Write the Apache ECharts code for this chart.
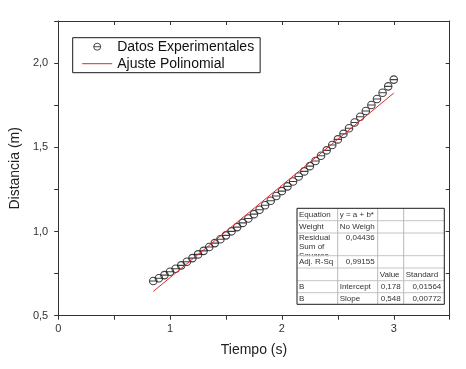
<!DOCTYPE html>
<html>
<head>
<meta charset="utf-8">
<script src="https://cdn.jsdelivr.net/npm/echarts@6/dist/echarts.min.js"></script>
<style>html,body{margin:0;padding:0;background:#fff;}#c{width:466px;height:369px;}</style>
</head>
<body>
<div id="c"></div>
<script>
// ---- data ----
var tiempo = [0.85,0.90,0.95,1.00,1.05,1.10,1.15,1.20,1.25,1.30,1.35,1.40,1.45,1.50,1.55,1.60,1.65,1.70,1.75,1.80,1.85,1.90,1.95,2.00,2.05,2.10,2.15,2.20,2.25,2.30,2.35,2.40,2.45,2.50,2.55,2.60,2.65,2.70,2.75,2.80,2.85,2.90,2.95,3.00];
var distancia = [0.706,0.722,0.741,0.761,0.779,0.799,0.820,0.842,0.864,0.885,0.908,0.931,0.954,0.977,1.001,1.026,1.051,1.077,1.103,1.129,1.156,1.183,1.211,1.240,1.268,1.297,1.327,1.357,1.388,1.419,1.450,1.482,1.514,1.547,1.580,1.613,1.647,1.681,1.716,1.751,1.787,1.824,1.862,1.902];
var ajusteT = [0.85, 3.00];
var ajusteY = [0.644, 1.822];
var xTickLabels = ['0','1','2','3'];
var yTickLabels = ['0,5','1,0','1,5','2,0'];
var seriesNames = ['Datos Experimentales','Ajuste Polinomial'];
var tableRows = [
  ['Equation','y = a + b*','',''],
  ['Weight','No Weigh','',''],
  ['Residual\nSum of\nSquares','0,04436','',''],
  ['Adj. R-Sq','0,99155','',''],
  ['','','Value','Standard'],
  ['B','Intercept','0,178','0,01564'],
  ['B','Slope','0,548','0,00772']
];

// ---- build ----
var chart = echarts.init(document.getElementById('c'), null, {renderer:'canvas'});
var FONT = '"Liberation Sans", Arial, sans-serif';
var scatterData = tiempo.map(function(t,i){return [t, distancia[i]];});
var fitData = ajusteT.map(function(t,i){return [t, ajusteY[i]];});
var theta = 'path://M0,5A5,5 0 1,1 10,5A5,5 0 1,1 0,5ZM0,5L10,5';

// table layout
var colX = [297, 337.7, 377.7, 403.7, 444.3];
var rowY = [208.3, 220.7, 233, 255.7, 268, 280.7, 292.7, 304.3];
var align = [['left','left','left','left'],['left','left','left','left'],['left','right','left','left'],['left','right','left','left'],['left','left','left','left'],['left','left','right','right'],['left','left','right','right']];
var g = [];
g.push({type:'rect', shape:{x:colX[0], y:rowY[0], width:colX[4]-colX[0], height:rowY[7]-rowY[0]}, style:{fill:'#fff'}, z:10});
tableRows.forEach(function(row, r){
  row.forEach(function(txt, c){
    if (!txt) return;
    var a = align[r][c];
    var x = a === 'left' ? colX[c] + 2 : colX[c+1] - 3;
    if (r === 2 && c === 0) {
      var lines = txt.split('\n');
      lines.forEach(function(l, k){
        g.push({type:'text', x:x, y:rowY[r] + 4.7 + k*9, style:{text:l, font:'8px '+FONT, fill:'#333', textAlign:a, textVerticalAlign:'middle'}, z:11});
      });
      return;
    }
    var cy = (r === 2) ? rowY[r] + 4.7 : (rowY[r] + rowY[r+1]) / 2;
    g.push({type:'text', x:x, y:cy, style:{text:txt, font:'8px '+FONT, fill:'#333', textAlign:a, textVerticalAlign:'middle'}, z:13});
  });
});
// mask below the overflowing third row
g.push({type:'rect', shape:{x:colX[0]+0.5, y:rowY[3]+0.5, width:colX[1]-colX[0]-1, height:rowY[4]-rowY[3]-1}, style:{fill:'#fff'}, z:12});
for (var i = 1; i < 7; i++) {
  g.push({type:'line', shape:{x1:colX[0], y1:rowY[i], x2:colX[4], y2:rowY[i]}, style:{stroke:'#c4c4c4', lineWidth:1}, z:14});
}
for (var j = 1; j < 4; j++) {
  g.push({type:'line', shape:{x1:colX[j], y1:rowY[0], x2:colX[j], y2:rowY[7]}, style:{stroke:'#b8b8b8', lineWidth:1}, z:14});
}
g.push({type:'rect', shape:{x:colX[0], y:rowY[0], width:colX[4]-colX[0], height:rowY[7]-rowY[0]}, style:{fill:'none', stroke:'#1a1a1a', lineWidth:1}, z:15});

var axisLineStyle = {color:'#333', width:1};
var option = {
  animation:false,
  backgroundColor:'#fff',
  textStyle:{fontFamily:FONT},
  grid:{left:52.7, right:16.3, top:21, bottom:53.3, containLabel:false},
  legend:{
    orient:'vertical', left:72.7, top:37.7,
    padding:[2,6,2,9], itemGap:3, itemWidth:30, itemHeight:7,
    borderColor:'#1a1a1a', borderWidth:1, backgroundColor:'#fff',
    textStyle:{fontSize:14, color:'#111', fontFamily:FONT},
    data:[
      {name:seriesNames[0], itemStyle:{color:'rgba(0,0,0,0)', borderColor:'#1a1a1a', borderWidth:1}},
      {name:seriesNames[1], itemStyle:{opacity:0}, lineStyle:{width:1, color:'#e0282e'}}
    ]
  },
  xAxis:[{
    type:'value', min:0, max:3.5, interval:0.5,
    name:'Tiempo (s)', nameLocation:'middle', nameGap:27,
    nameTextStyle:{fontSize:14, color:'#222', fontFamily:FONT},
    axisLine:{onZero:false, lineStyle:axisLineStyle},
    axisTick:{inside:false, length:4, lineStyle:axisLineStyle},
    axisLabel:{margin:8, fontSize:11, color:'#333', fontFamily:FONT,
      formatter:function(v){var k=xTickLabels.indexOf(String(v)); return k>=0?xTickLabels[k]:'';}},
    splitLine:{show:false}
  },{
    type:'value', position:'top', min:0, max:3.5, interval:0.5,
    axisLine:{onZero:false, lineStyle:axisLineStyle},
    axisTick:{inside:true, length:4, lineStyle:axisLineStyle},
    axisLabel:{show:false}, splitLine:{show:false}
  }],
  yAxis:[{
    type:'value', min:0.5, max:2.25, interval:0.25,
    name:'Distancia (m)', nameLocation:'middle', nameGap:32,
    nameTextStyle:{fontSize:14, color:'#222', fontFamily:FONT},
    axisLine:{onZero:false, lineStyle:axisLineStyle},
    axisTick:{inside:false, length:4, lineStyle:axisLineStyle},
    axisLabel:{margin:10, fontSize:11, color:'#333', fontFamily:FONT,
      formatter:function(v){var s=v.toFixed(1).replace('.',','); return yTickLabels.indexOf(s)>=0?s:'';}},
    splitLine:{show:false}
  },{
    type:'value', position:'right', min:0.5, max:2.25, interval:0.25,
    axisLine:{onZero:false, lineStyle:axisLineStyle},
    axisTick:{inside:true, length:4, lineStyle:axisLineStyle},
    axisLabel:{show:false}, splitLine:{show:false}
  }],
  series:[{
    name:seriesNames[0], type:'scatter', xAxisIndex:0, yAxisIndex:0,
    symbol:theta, symbolSize:7.5,
    itemStyle:{color:'rgba(0,0,0,0)', borderColor:'#111', borderWidth:1.1},
    data:scatterData, z:3
  },{
    name:seriesNames[1], type:'line', xAxisIndex:0, yAxisIndex:0,
    symbol:'none', showSymbol:false,
    lineStyle:{color:'#e0282e', width:1}, itemStyle:{color:'#e0282e'},
    data:fitData, z:4
  }],
  graphic:g
};
chart.setOption(option);
</script>
</body>
</html>
